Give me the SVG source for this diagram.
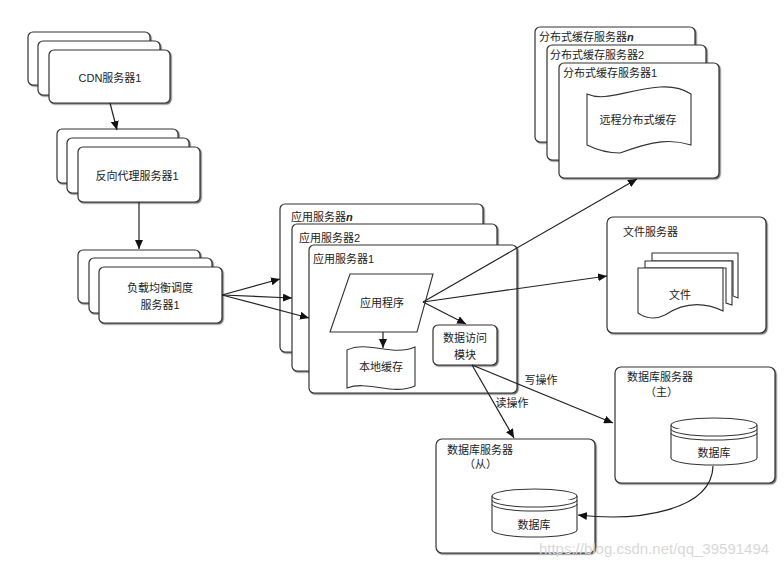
<svg xmlns="http://www.w3.org/2000/svg" width="784" height="566" viewBox="0 0 784 566">
<style>
  .box{fill:#fff;stroke:#333;stroke-width:1.2;filter:url(#ds)}
  .shp{fill:#fff;stroke:#333;stroke-width:1.1}
  .t{font-family:"Liberation Sans","Noto Sans CJK SC",sans-serif;font-size:11px;fill:#222}
  .c{text-anchor:middle}
  .ln{fill:none;stroke:#222;stroke-width:1.2;marker-end:url(#ah)}
  .it{font-style:italic;font-weight:bold}
</style>
<defs>
  <filter id="ds" x="-5%" y="-5%" width="115%" height="115%">
    <feDropShadow dx="1.2" dy="1.2" stdDeviation="0.6" flood-color="#555" flood-opacity="0.8"/>
  </filter>
  <marker id="ah" markerUnits="userSpaceOnUse" markerWidth="10" markerHeight="8" refX="9" refY="4" orient="auto">
    <path d="M0,0 L9,4 L0,8 z" fill="#111"/>
  </marker>
</defs>
<rect width="784" height="566" fill="#fff"/>

<g id="cdn">
  <rect class="box" x="28" y="32" width="122" height="53" rx="5"/>
  <rect class="box" x="38" y="41" width="122" height="54" rx="5"/>
  <rect class="box" x="49" y="50" width="121" height="53" rx="5"/>
  <text class="t c" x="110" y="82">CDN服务器1</text>
</g>

<g id="proxy">
  <rect class="box" x="57" y="129" width="121" height="54" rx="5"/>
  <rect class="box" x="67" y="138" width="122" height="55" rx="5"/>
  <rect class="box" x="78" y="147" width="122" height="55" rx="5"/>
  <text class="t c" x="137" y="180">反向代理服务器1</text>
</g>

<g id="lb">
  <rect class="box" x="78" y="250" width="122" height="53" rx="5"/>
  <rect class="box" x="89" y="258" width="123" height="55" rx="5"/>
  <rect class="box" x="99" y="267" width="123" height="56" rx="5"/>
  <text class="t c" x="160" y="292">负载均衡调度</text>
  <text class="t c" x="160" y="309">服务器1</text>
</g>

<g id="app">
  <rect class="box" x="280" y="204" width="203" height="148" rx="5"/>
  <text class="t" x="291" y="221">应用服务器<tspan class="it">n</tspan></text>
  <rect class="box" x="292" y="224" width="205" height="147" rx="5"/>
  <text class="t" x="299" y="242">应用服务器2</text>
  <rect class="box" x="309" y="245" width="208" height="148" rx="5"/>
  <text class="t" x="313" y="263">应用服务器1</text>
  <g id="appprog">
    <path class="shp" d="M350,274 L433,274 L417,332 L330,332 z"/>
    <text class="t c" x="382" y="307">应用程序</text>
  </g>
  <g id="localcache">
    <path class="shp" d="M347,350 C368,340 392,357 415,347 L415,386 C392,396 368,380 347,388 z"/>
    <text class="t c" x="381" y="371">本地缓存</text>
  </g>
  <g id="dao">
    <rect class="box" x="433" y="325" width="64" height="40" rx="5"/>
    <text class="t c" x="465" y="342">数据访问</text>
    <text class="t c" x="465" y="359">模块</text>
  </g>
</g>

<g id="dcache">
  <rect class="box" x="535" y="27" width="160" height="115" rx="5"/>
  <text class="t" x="539" y="41">分布式缓存服务器<tspan class="it">n</tspan></text>
  <rect class="box" x="547" y="45" width="159" height="115" rx="5"/>
  <text class="t" x="550" y="59">分布式缓存服务器2</text>
  <rect class="box" x="559" y="63" width="160" height="115" rx="5"/>
  <text class="t" x="563" y="77">分布式缓存服务器1</text>
  <path class="shp" d="M587,94 C605,102 625,90 660,87 C675,86 685,90 691,94 L691,145 C672,139 655,140 620,153 C605,153 595,149 587,145 z"/>
  <text class="t c" x="638" y="124">远程分布式缓存</text>
</g>

<g id="fileserver">
  <rect class="box" x="607" y="217" width="159" height="116" rx="6"/>
  <text class="t" x="623" y="236">文件服务器</text>
  <path class="shp" d="M652,253 L738,253 L738,298 L733,296 L733,261 L652,261 z"/>
  <path class="shp" d="M645,261 L732,261 L732,305 L726,303 L726,268 L645,268 z"/>
  <path class="shp" d="M638,268 L723,268 L723,311 C700,300 680,305 665,315 C655,320 645,318 638,313 z"/>
  <text class="t c" x="680" y="299">文件</text>
</g>

<g id="dbmaster">
  <rect class="box" x="615" y="367" width="160" height="116" rx="6"/>
  <text class="t" x="627" y="381">数据库服务器</text>
  <text class="t" x="645" y="396">（主）</text>
  <path class="shp" d="M671,425 L671,458 A43,7 0 0 0 757,458 L757,425"/>
  <ellipse class="shp" cx="714" cy="425" rx="43" ry="7"/>
  <path class="shp" d="M671,429 A43,7 0 0 0 757,429 M671,433 A43,7 0 0 0 757,433" fill="none"/>
  <text class="t c" x="714" y="457">数据库</text>
</g>

<g id="dbslave">
  <rect class="box" x="436" y="439" width="159" height="114" rx="6"/>
  <text class="t" x="447" y="454">数据库服务器</text>
  <text class="t" x="464" y="468">（从）</text>
  <path class="shp" d="M492,496 L492,530 A42.5,7 0 0 0 577,530 L577,496"/>
  <ellipse class="shp" cx="534.5" cy="496" rx="42.5" ry="7"/>
  <path class="shp" d="M492,500 A42.5,7 0 0 0 577,500 M492,504 A42.5,7 0 0 0 577,504" fill="none"/>
  <text class="t c" x="534" y="529">数据库</text>
</g>

<g id="connectors">
  <line class="ln" x1="110" y1="103" x2="117" y2="130"/>
  <line class="ln" x1="139" y1="202" x2="139" y2="249"/>
  <line class="ln" x1="222" y1="295" x2="280" y2="279"/>
  <line class="ln" x1="222" y1="295" x2="292" y2="298"/>
  <line class="ln" x1="222" y1="295" x2="309" y2="318"/>
  <line class="ln" x1="383" y1="332" x2="383" y2="348"/>
  <line class="ln" x1="423" y1="302" x2="466" y2="324"/>
  <line class="ln" x1="423" y1="302" x2="637" y2="179"/>
  <line class="ln" x1="423" y1="302" x2="607" y2="276"/>
  <line class="ln" x1="472" y1="365" x2="613" y2="423"/>
  <line class="ln" x1="472" y1="365" x2="514" y2="438"/>
  <path class="ln" d="M713,466 C712,510 640,522 578,515"/>
  <text class="t c" x="541" y="384">写操作</text>
  <text class="t c" x="512" y="407">读操作</text>
</g>

<text x="654" y="554" text-anchor="middle" style="font-family:'Liberation Sans',sans-serif;font-size:15px;fill:#d8d8d8">https://blog.csdn.net/qq_39591494</text>
</svg>
